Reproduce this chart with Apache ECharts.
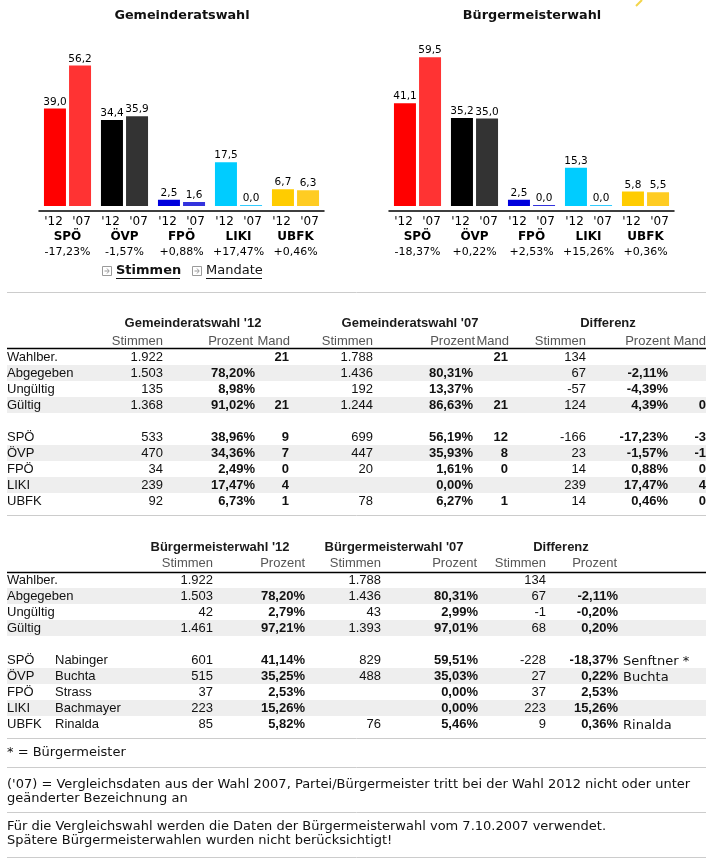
<!DOCTYPE html>
<html><head><meta charset="utf-8">
<script src="https://cdn.jsdelivr.net/npm/echarts/dist/echarts.min.js"></script>
<style>html,body{margin:0;padding:0;background:#fff}#c{width:726px;height:861px}</style>
</head><body><div id="c"></div>
<script>
// ---------- chart data ----------
const parties = ['SPÖ', 'ÖVP', 'FPÖ', 'LIKI', 'UBFK'];
const yearLabels = ["'12", "'07"];
const grPct12 = [39.0, 34.4, 2.5, 17.5, 6.7];
const grPct07 = [56.2, 35.9, 1.6, 0.0, 6.3];
const grDiffLabels = ['-17,23%', '-1,57%', '+0,88%', '+17,47%', '+0,46%'];
const bmPct12 = [41.1, 35.2, 2.5, 15.3, 5.8];
const bmPct07 = [59.5, 35.0, 0.0, 0.0, 5.5];
const bmDiffLabels = ['-18,37%', '+0,22%', '+2,53%', '+15,26%', '+0,36%'];

// ---------- table data: Gemeinderatswahl ----------
const grRowLabels   = ['Wahlber.', 'Abgegeben', 'Ungültig', 'Gültig', '', 'SPÖ', 'ÖVP', 'FPÖ', 'LIKI', 'UBFK'];
const gr12Stimmen   = ['1.922', '1.503', '135', '1.368', '', '533', '470', '34', '239', '92'];
const gr12Prozent   = ['', '78,20%', '8,98%', '91,02%', '', '38,96%', '34,36%', '2,49%', '17,47%', '6,73%'];
const gr12Mand      = ['21', '', '', '21', '', '9', '7', '0', '4', '1'];
const gr07Stimmen   = ['1.788', '1.436', '192', '1.244', '', '699', '447', '20', '', '78'];
const gr07Prozent   = ['', '80,31%', '13,37%', '86,63%', '', '56,19%', '35,93%', '1,61%', '0,00%', '6,27%'];
const gr07Mand      = ['21', '', '', '21', '', '12', '8', '0', '', '1'];
const grDiffStimmen = ['134', '67', '-57', '124', '', '-166', '23', '14', '239', '14'];
const grDiffProzent = ['', '-2,11%', '-4,39%', '4,39%', '', '-17,23%', '-1,57%', '0,88%', '17,47%', '0,46%'];
const grDiffMand    = ['', '', '', '0', '', '-3', '-1', '0', '4', '0'];
const grHeaders = ["Gemeinderatswahl '12", "Gemeinderatswahl '07", 'Differenz'];
const grSubHeaders = ['Stimmen', 'Prozent', 'Mand', 'Stimmen', 'Prozent', 'Mand', 'Stimmen', 'Prozent', 'Mand'];

// ---------- table data: Bürgermeisterwahl ----------
const bmRowLabels   = ['Wahlber.', 'Abgegeben', 'Ungültig', 'Gültig', '', 'SPÖ', 'ÖVP', 'FPÖ', 'LIKI', 'UBFK'];
const bmCandidates  = ['', '', '', '', '', 'Nabinger', 'Buchta', 'Strass', 'Bachmayer', 'Rinalda'];
const bm12Stimmen   = ['1.922', '1.503', '42', '1.461', '', '601', '515', '37', '223', '85'];
const bm12Prozent   = ['', '78,20%', '2,79%', '97,21%', '', '41,14%', '35,25%', '2,53%', '15,26%', '5,82%'];
const bm07Stimmen   = ['1.788', '1.436', '43', '1.393', '', '829', '488', '', '', '76'];
const bm07Prozent   = ['', '80,31%', '2,99%', '97,01%', '', '59,51%', '35,03%', '0,00%', '0,00%', '5,46%'];
const bmDiffStimmen = ['134', '67', '-1', '68', '', '-228', '27', '37', '223', '9'];
const bmDiffProzent = ['', '-2,11%', '-0,20%', '0,20%', '', '-18,37%', '0,22%', '2,53%', '15,26%', '0,36%'];
const bm07Candidates = ['', '', '', '', '', 'Senftner *', 'Buchta', '', '', 'Rinalda'];
const bmHeaders = ["Bürgermeisterwahl '12", "Bürgermeisterwahl '07", 'Differenz'];
const bmSubHeaders = ['Stimmen', 'Prozent', 'Stimmen', 'Prozent', 'Stimmen', 'Prozent'];

const footNotes = [
  ['* = Bürgermeister'],
  ["('07) = Vergleichsdaten aus der Wahl 2007, Partei/Bürgermeister tritt bei der Wahl 2012 nicht oder unter", 'geänderter Bezeichnung an'],
  ['Für die Vergleichswahl werden die Daten der Bürgermeisterwahl vom 7.10.2007 verwendet.', 'Spätere Bürgermeisterwahlen wurden nicht berücksichtigt!']
];
const chartTitles = ['Gemeinderatswahl', 'Bürgermeisterwahl'];
const viewLinks = ['Stimmen', 'Mandate'];

// ---------- styles ----------
const colors12 = ['#ff0000', '#000000', '#0000dd', '#00ccff', '#ffcc00'];
const colors07 = ['#ff3333', '#333333', '#3333dd', '#33ccff', '#ffcc22'];
const VF = 'DejaVu Sans, Verdana, sans-serif';
const AF = 'Liberation Sans, Arial, sans-serif';

function fmt1(v) { return v.toFixed(1).replace('.', ','); }

function barSeries(name, data, colors, idx) {
  return {
    type: 'bar', name: name, data: data, xAxisIndex: idx, yAxisIndex: idx,
    barWidth: 22, barGap: '14%', barMinHeight: 1,
    itemStyle: { color: p => colors[p.dataIndex] },
    label: { show: true, position: 'top', distance: 1, formatter: p => fmt1(p.value),
             fontFamily: VF, fontSize: 10.5, color: '#000' }
  };
}
function xAxisFor(idx, diffs) {
  return {
    type: 'category', gridIndex: idx, data: parties,
    axisLine: { onZero: false, lineStyle: { color: '#000', width: 1.5 } },
    axisTick: { show: false },
    axisLabel: {
      interval: 0, margin: 3,
      formatter: (v, i) => '{y|' + yearLabels[0] + '}{y|' + yearLabels[1] + '}\n{p|' + v + '}\n{d|' + diffs[i] + '}',
      rich: {
        y: { fontFamily: VF, fontSize: 12, color: '#000', width: 28, align: 'center', lineHeight: 15 },
        p: { fontFamily: VF, fontSize: 12, fontWeight: 'bold', color: '#000', align: 'center', lineHeight: 16 },
        d: { fontFamily: VF, fontSize: 11, color: '#000', align: 'center', lineHeight: 14 }
      }
    }
  };
}

// ---------- graphic (tables, texts) ----------
const G = [];
function txt(x, y, s, opt) {
  opt = opt || {};
  G.push({ type: 'text', x: x, y: y, z: 10, silent: true,
    style: { text: s, fill: opt.color || '#111',
      font: (opt.bold ? 'bold ' : '') + (opt.size || 13) + 'px ' + (opt.family || AF),
      textAlign: opt.align || 'left', align: opt.align || 'left',
      textVerticalAlign: 'middle', verticalAlign: 'middle' } });
}
function hline(x1, x2, y, color, w) {
  G.push({ type: 'line', z: 5, silent: true, shape: { x1: x1, y1: y, x2: x2, y2: y },
    style: { stroke: color, lineWidth: w || 1 } });
}
function band(y, h) {
  G.push({ type: 'rect', z: 1, silent: true, shape: { x: 7, y: y, width: 699, height: h },
    style: { fill: '#eeeeee' } });
}

// chart titles
txt(182, 15.5, chartTitles[0], { bold: true, size: 12.8, family: VF, align: 'center', color: '#111' });
txt(532, 15.5, chartTitles[1], { bold: true, size: 12.8, family: VF, align: 'center', color: '#111' });
// little decorative mark
G.push({ type: 'line', silent: true, shape: { x1: 642, y1: 0, x2: 636, y2: 6 }, style: { stroke: '#f3d54a', lineWidth: 2 } });

// view links
[[102, 116, viewLinks[0], true, 64], [192, 206, viewLinks[1], false, 56]].forEach(function (l) {
  G.push({ type: 'rect', silent: true, shape: { x: l[0] + 0.5, y: 266.5, width: 9, height: 9 }, style: { fill: 'none', stroke: '#9a9a9a', lineWidth: 1 } });
  G.push({ type: 'polyline', silent: true, shape: { points: [[l[0] + 2.5, 271], [l[0] + 7, 271]] }, style: { stroke: '#9a9a9a', lineWidth: 1, fill: 'none' } });
  G.push({ type: 'polyline', silent: true, shape: { points: [[l[0] + 5, 268.5], [l[0] + 7.2, 271], [l[0] + 5, 273.5]] }, style: { stroke: '#9a9a9a', lineWidth: 1, fill: 'none' } });
  txt(l[1], 271, l[2], { bold: l[3], size: 13, family: VF, color: '#111' });
  hline(l[1], l[1] + l[4], 278.5, '#111', 1);
});

// separator
hline(7, 706, 292.5, '#cccccc', 1);

function table(cfg) {
  cfg.headers.forEach((h, i) => txt(cfg.headerX[i], cfg.headerY, h, { bold: true, align: 'center', color: '#1a1a1a' }));
  cfg.subHeaders.forEach((h, i) => txt(cfg.subX[i], cfg.subY, h, { align: 'right', color: '#555' }));
  hline(7, 706, cfg.lineY, '#000', 1.5);
  for (let r = 0; r < cfg.rows; r++) {
    const y = cfg.y0 + r * 16;
    if (r === 1 || r === 3 || r === 6 || r === 8) band(y - 8, 16);
    cfg.cols.forEach(c => {
      const v = c.data[r];
      if (v) txt(c.x, y + (c.family ? 1.5 : 0), v, { align: c.align || 'right', bold: c.bold, family: c.family, color: '#111' });
    });
  }
  hline(7, 706, cfg.bottomY, '#cccccc', 1);
}

table({
  headers: grHeaders, headerX: [193, 410, 608], headerY: 323,
  subHeaders: grSubHeaders, subX: [163, 253, 290, 373, 475, 509, 586, 670, 706], subY: 341,
  lineY: 348.5, y0: 357, rows: 10, bottomY: 515.5,
  cols: [
    { data: grRowLabels, x: 7, align: 'left' },
    { data: gr12Stimmen, x: 163 },
    { data: gr12Prozent, x: 255, bold: true },
    { data: gr12Mand, x: 289, bold: true },
    { data: gr07Stimmen, x: 373 },
    { data: gr07Prozent, x: 473, bold: true },
    { data: gr07Mand, x: 508, bold: true },
    { data: grDiffStimmen, x: 586 },
    { data: grDiffProzent, x: 668, bold: true },
    { data: grDiffMand, x: 706, bold: true }
  ]
});

table({
  headers: bmHeaders, headerX: [220, 394, 561], headerY: 547,
  subHeaders: bmSubHeaders, subX: [213, 305, 381, 477, 546, 617], subY: 563,
  lineY: 572.5, y0: 580, rows: 10, bottomY: 738.5,
  cols: [
    { data: bmRowLabels, x: 7, align: 'left' },
    { data: bmCandidates, x: 55, align: 'left' },
    { data: bm12Stimmen, x: 213 },
    { data: bm12Prozent, x: 305, bold: true },
    { data: bm07Stimmen, x: 381 },
    { data: bm07Prozent, x: 478, bold: true },
    { data: bmDiffStimmen, x: 546 },
    { data: bmDiffProzent, x: 618, bold: true },
    { data: bm07Candidates, x: 623, align: 'left', family: VF }
  ]
});

// footnotes
const footY = [[753], [785, 799], [827, 841]];
const footLines = [767.5, 812.5, 857.5];
footNotes.forEach((lines, i) => {
  lines.forEach((s, j) => txt(7, footY[i][j], s, { size: 13, family: VF, color: '#111' }));
  hline(7, 706, footLines[i], '#cccccc', 1);
});

// ---------- chart ----------
const chart = echarts.init(document.getElementById('c'), null, { renderer: 'canvas' });
chart.setOption({
  animation: false,
  backgroundColor: '#fff',
  grid: [
    { left: 39, top: 56, width: 285, height: 155 },
    { left: 389, top: 56, width: 285, height: 155 }
  ],
  xAxis: [xAxisFor(0, grDiffLabels), xAxisFor(1, bmDiffLabels)],
  yAxis: [
    { type: 'value', gridIndex: 0, min: -2, max: 60, show: false },
    { type: 'value', gridIndex: 1, min: -2, max: 60, show: false }
  ],
  series: [
    barSeries("'12", grPct12, colors12, 0),
    barSeries("'07", grPct07, colors07, 0),
    barSeries("'12", bmPct12, colors12, 1),
    barSeries("'07", bmPct07, colors07, 1)
  ],
  graphic: { elements: G }
});
</script></body></html>
